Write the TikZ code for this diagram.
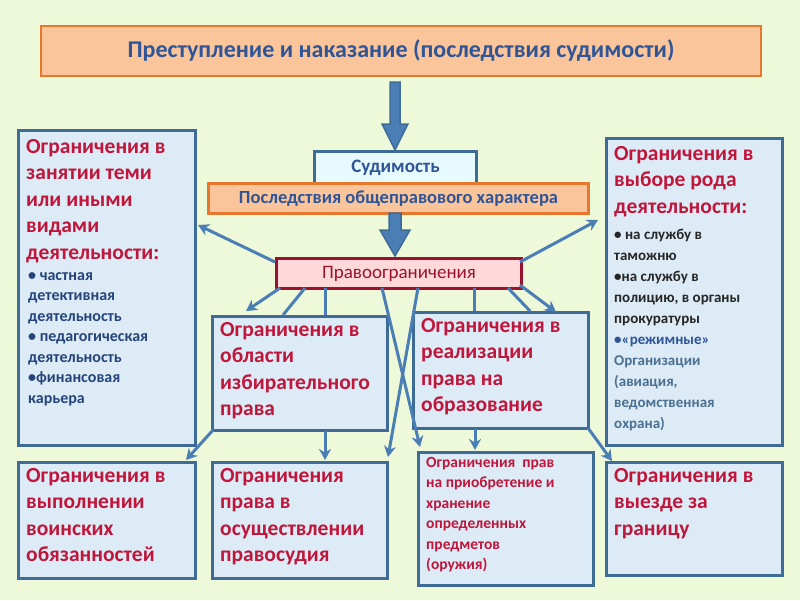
\documentclass[tikz,border=0pt]{standalone}
\usepackage{fontspec}
\setmainfont{Carlito}
\usetikzlibrary{arrows.meta}
\definecolor{bg}{HTML}{EEF9DA}
\definecolor{bx}{HTML}{DCEBF5}
\definecolor{bd}{HTML}{3E6C97}
\definecolor{rd}{HTML}{C0163C}
\definecolor{tb}{HTML}{2F5597}
\definecolor{og}{HTML}{FAC59A}
\definecolor{ogd}{HTML}{E8772E}
\definecolor{ln}{HTML}{4A7EB5}
\tikzset{
 box/.style={draw=bd,line width=3pt,fill=bx},
 big/.style={anchor=north west,align=left,text=rd,font=\fontsize{21.5}{26.5}\selectfont\bfseries,inner sep=0pt},
 small/.style={anchor=north west,align=left,text=tb!80!black,font=\fontsize{16}{20.5}\selectfont\bfseries,inner sep=0pt},
 ar/.style={draw=ln,line width=3pt,-{Stealth[length=11pt,width=12pt]}},
 pl/.style={draw=ln,line width=3pt},
 fat/.style={draw=bd,fill=ln,line width=1.5pt}
}
\begin{document}
\begin{tikzpicture}[x=1pt,y=-1pt]
\useasboundingbox (0,0) rectangle (800,600);
\fill[bg] (0,0) rectangle (800,600);
% title
\node[draw=ogd,line width=2pt,fill=og,minimum width=720pt,minimum height=50pt,anchor=north west,font=\fontsize{24}{28}\selectfont\bfseries,text=tb] (title) at (40,25) {Преступление и наказание (последствия судимости)};
% boxes
\node[box,minimum width=162pt,minimum height=32pt,anchor=north west,font=\fontsize{19}{22}\selectfont\bfseries,text=tb,fill=bx!80!cyan!30] (sud) at (313,150) {\raisebox{3pt}{Судимость}};
\node[draw=ogd,line width=3pt,fill=og,minimum width=380pt,minimum height=30pt,anchor=north west,font=\fontsize{18.5}{22}\selectfont\bfseries,text=tb] (posl) at (207,182) {Последствия общеправового характера};
\node[draw=rd!80!black,line width=3pt,fill=red!15,minimum width=245pt,minimum height=30pt,anchor=north west,font=\fontsize{19}{22}\selectfont,text=rd!80!black] (prav) at (275,257) {Правоограничения};
\draw[fat] (390,82) -- (400,82) -- (400,124) -- (408,124) -- (395,150) -- (382,124) -- (390,124) -- cycle;
\draw[fat] (389,213) -- (401,213) -- (401,230) -- (410,230) -- (395,256) -- (380,230) -- (389,230) -- cycle;

\draw[box] (18,130) rectangle (195,445);
\node[big] (at) at (26,139) {Ограничения в\\занятии теми\\или иными\\видами\\деятельности:};
\node[small] (as) at (28,272) {• частная\\детективная\\деятельность\\• педагогическая\\деятельность\\•финансовая\\карьера};

\draw[box] (606,138) rectangle (782,445);
\node[big] (bt) at (614,146) {Ограничения в\\выборе рода\\деятельности:};
\node[small,text=black!85,font=\fontsize{15}{21}\selectfont\bfseries] (bs) at (614,229) {• на службу в\\ таможню\\•на службу в\\полицию, в органы\\прокуратуры\\\textcolor{tb}{•«режимные»}\\\textcolor{bd!80!gray}{Организации}\\\textcolor{bd!80!gray}{(авиация,}\\\textcolor{bd!80!gray}{ведомственная}\\\textcolor{bd!80!gray}{охрана)}};

\draw[box] (212,316) rectangle (387,430);
\node[big] (ct) at (220,322) {Ограничения в\\области\\избирательного\\права};
\draw[box] (413,312) rectangle (588,428);
\node[big] (dt) at (421,318) {Ограничения в\\реализации\\права на\\образование};

\draw[box] (18,462) rectangle (195,578);
\node[big] (et) at (26,468) {Ограничения в\\выполнении\\воинских\\обязанностей};
\draw[box] (212,462) rectangle (387,578);
\node[big] (ft) at (220,468) {Ограничения\\права в\\осуществлении\\правосудия};
\draw[box] (418,452) rectangle (593,585);
\node[big,font=\fontsize{15.5}{20.5}\selectfont\bfseries] (gt) at (426,457) {Ограничения~ прав\\на приобретение и\\хранение\\определенных\\предметов\\(оружия)};
\draw[box] (606,462) rectangle (782,575);
\node[big] (ht) at (614,468) {Ограничения в\\выезде за\\границу};

% connectors
\coordinate (p1) at (275,262); \coordinate (q1) at (198,225);
\coordinate (p2) at (520,262); \coordinate (q2) at (598,220);
\draw[ar] (p1) -- (q1);
\draw[ar] (p2) -- (q2);
\draw[ar] (280,288) -- (246,311);
\draw[pl] (305,288) -- (283,315);
\draw[pl] (325,288) -- (325,315);
\draw[ar] (382,288) -- (420,447);
\draw[ar] (418,288) -- (388,457);
\draw[pl] (474,288) -- (474,311);
\draw[pl] (508,288) -- (530,311);
\draw[ar] (520,285) -- (556,312);
\draw[ar] (213,430) -- (186,460);
\draw[ar] (325,431) -- (325,460);
\draw[ar] (475,429) -- (475,450);
\draw[ar] (588,428) -- (612,461);
\end{tikzpicture}
\end{document}
